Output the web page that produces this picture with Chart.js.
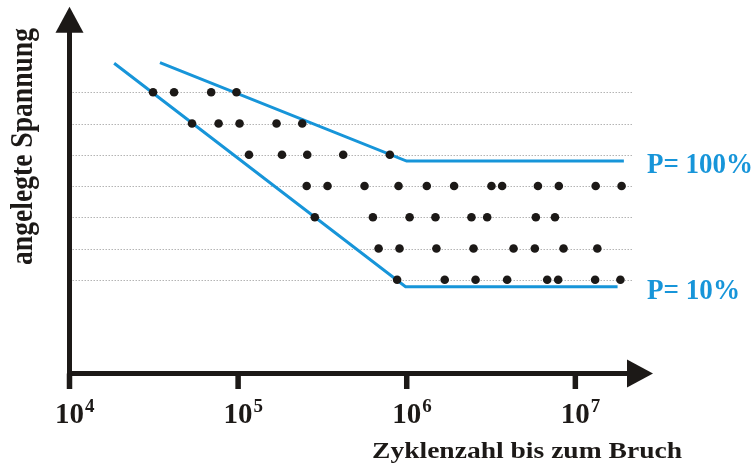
<!DOCTYPE html>
<html>
<head>
<meta charset="utf-8">
<script src="https://cdn.jsdelivr.net/npm/chart.js@4/dist/chart.umd.min.js"></script>
<style>
  html, body { margin: 0; padding: 0; background: #fff; }
</style>
</head>
<body>
<canvas id="woehler" width="755" height="468"></canvas>
<script>
// x: Zyklenzahl (log), y: Spannungsniveau 1 (unten) .. 7 (oben)
const xTicks = [1e4, 1e5, 1e6, 1e7];
const tickBase = ['10', '10', '10', '10'];
const tickExp = ['4', '5', '6', '7'];
const levels = [1, 2, 3, 4, 5, 6, 7];

const row1 = [877000, 1680000, 2560000, 3940000, 6810000, 7910000, 13100000, 18500000];
const row2 = [681000, 906000, 1500000, 2490000, 4300000, 5750000, 8510000, 13500000];
const row3 = [285000, 630000, 1040000, 1480000, 2420000, 3000000, 5830000, 7570000];
const row4 = [255000, 339000, 562000, 894000, 1315000, 1910000, 3180000, 3680000, 6000000, 7980000, 13200000, 18800000];
const row5 = [116000, 182000, 257000, 420000, 794000];
const row6 = [53300, 76600, 102000, 169000, 240000];
const row7 = [31300, 41700, 69200, 97800];

const upperX = [34400, 998000, 19400000];
const upperY = [7.95, 4.8, 4.8];
const lowerX = [18400, 984000, 17800000];
const lowerY = [7.93, 0.775, 0.775];

const upperLabel = 'P= 100%';
const lowerLabel = 'P= 10%';
const xTitle = 'Zyklenzahl bis zum Bruch';
const yTitle = 'angelegte Spannung';

const ink = '#1c1917';
const blue = '#1795d9';
const gridColor = '#b4b4b4';
const serif = '"Liberation Serif", "Times New Roman", serif';

const rows = [row1, row2, row3, row4, row5, row6, row7];
const dots = rows.flatMap((r, i) => r.map(v => ({ x: v, y: levels[i] })));
const toPoints = (xs, ys) => xs.map((v, i) => ({ x: v, y: ys[i] }));

// text squeezed/stretched to the width it has in the original
function fitText(ctx, text, x, y, font, width, align) {
    ctx.font = font;
    const w = ctx.measureText(text).width;
    const s = width / w;
    ctx.save();
    ctx.translate(x, y);
    ctx.scale(s, 1);
    ctx.textAlign = align;
    ctx.textBaseline = 'alphabetic';
    ctx.fillText(text, 0, 0);
    ctx.restore();
}

const decorations = {
    id: 'decorations',
    beforeDatasetsDraw(chart) {
        const { ctx, chartArea, scales: { y } } = chart;
        ctx.save();
        ctx.strokeStyle = gridColor;
        ctx.lineWidth = 1;
        ctx.setLineDash([1.5, 1.5]);
        levels.forEach(v => {
            const py = Math.round(y.getPixelForValue(v)) + 0.5;
            ctx.beginPath();
            ctx.moveTo(chartArea.left + 3, py);
            ctx.lineTo(chartArea.right, py);
            ctx.stroke();
        });
        ctx.restore();
    },
    afterDraw(chart) {
        const { ctx, chartArea, scales: { x, y } } = chart;
        const x0 = chartArea.left, y0 = chartArea.bottom;
        ctx.save();
        ctx.strokeStyle = ink;
        ctx.fillStyle = ink;
        ctx.lineWidth = 5;

        // y axis with arrow
        ctx.beginPath();
        ctx.moveTo(x0, y0 + 2.5);
        ctx.lineTo(x0, chartArea.top + 24);
        ctx.stroke();
        ctx.beginPath();
        ctx.moveTo(x0, chartArea.top);
        ctx.lineTo(x0 - 14, chartArea.top + 26);
        ctx.lineTo(x0 + 14, chartArea.top + 26);
        ctx.closePath();
        ctx.fill();

        // x axis with arrow
        ctx.beginPath();
        ctx.moveTo(x0 - 2.5, y0);
        ctx.lineTo(chartArea.right - 3, y0);
        ctx.stroke();
        ctx.beginPath();
        ctx.moveTo(chartArea.right + 21, y0);
        ctx.lineTo(chartArea.right - 5, y0 - 14);
        ctx.lineTo(chartArea.right - 5, y0 + 14);
        ctx.closePath();
        ctx.fill();

        // decade ticks and labels
        xTicks.forEach((t, i) => {
            const px = x.getPixelForValue(t);
            ctx.fillRect(px - 2.75, y0, 5.5, 15.5);
            ctx.font = 'bold 29px ' + serif;
            ctx.textAlign = 'center';
            ctx.textBaseline = 'alphabetic';
            const w = ctx.measureText(tickBase[i]).width;
            ctx.fillText(tickBase[i], px, 423);
            ctx.font = 'bold 19px ' + serif;
            ctx.textAlign = 'left';
            ctx.fillText(tickExp[i], px + w / 2 + 1, 412);
        });

        // axis titles
        fitText(ctx, xTitle, 527, 458, 'bold 24px ' + serif, 310, 'center');
        ctx.save();
        ctx.translate(31.5, 146.5);
        ctx.rotate(-Math.PI / 2);
        fitText(ctx, yTitle, 0, 0, 'bold 31px ' + serif, 237, 'center');
        ctx.restore();

        // probability labels next to the line ends
        ctx.fillStyle = blue;
        const uy = y.getPixelForValue(upperY[upperY.length - 1]);
        const ly = y.getPixelForValue(lowerY[lowerY.length - 1]);
        fitText(ctx, upperLabel, 647, uy + 12, 'bold 30px ' + serif, 106, 'left');
        fitText(ctx, lowerLabel, 647, ly + 12, 'bold 30px ' + serif, 93, 'left');
        ctx.restore();
    }
};

new Chart(document.getElementById('woehler').getContext('2d'), {
    type: 'scatter',
    data: {
        datasets: [{
            label: 'Proben',
            data: dots,
            pointRadius: 4.3,
            pointBackgroundColor: ink,
            pointBorderWidth: 0,
            order: 1
        }, {
            label: upperLabel,
            data: toPoints(upperX, upperY),
            showLine: true,
            borderColor: blue,
            borderWidth: 3,
            pointRadius: 0,
            fill: false,
            order: 2
        }, {
            label: lowerLabel,
            data: toPoints(lowerX, lowerY),
            showLine: true,
            borderColor: blue,
            borderWidth: 3,
            pointRadius: 0,
            fill: false,
            order: 2
        }]
    },
    options: {
        responsive: false,
        animation: false,
        events: [],
        layout: {
            padding: { left: 69.5, right: 123, top: 6.7, bottom: 94.5 }
        },
        scales: {
            x: {
                type: 'logarithmic',
                min: 1e4,
                max: Math.pow(10, 7.336),
                display: false
            },
            y: {
                type: 'linear',
                min: -2,
                max: 9.74,
                display: false
            }
        },
        plugins: {
            legend: { display: false },
            tooltip: { enabled: false }
        }
    },
    plugins: [decorations]
});
</script>
</body>
</html>
